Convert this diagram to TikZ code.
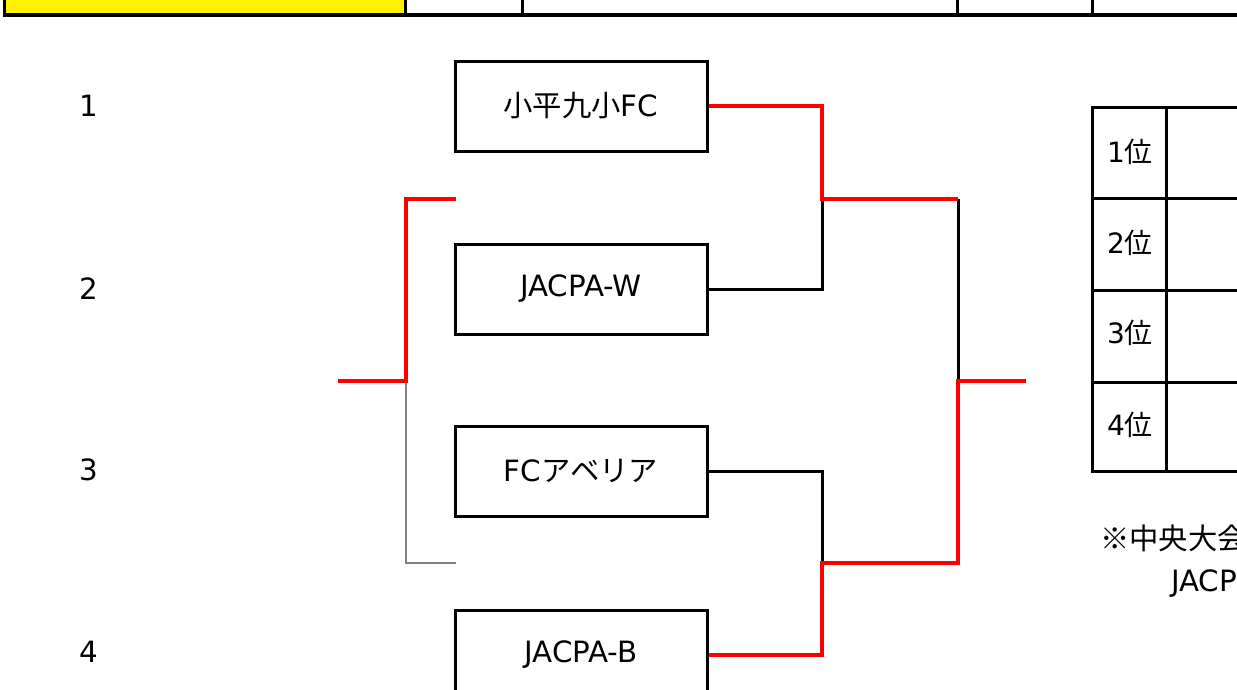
\documentclass[tikz,border=0pt]{standalone}
\usepackage{fontspec}
\setmainfont{DejaVu Sans}
\newfontfamily\jp{Noto Sans CJK JP}
\begin{document}
\begin{tikzpicture}[x=0.75pt,y=-0.75pt,
  team/.style={draw=black,line width=2.25pt,minimum width=189pt,minimum height=67.5pt,inner sep=0pt,font=\fontsize{22}{26}\selectfont},
  lbl/.style={font=\fontsize{22}{26}\selectfont,inner sep=0pt},
  rk/.style={font=\fontsize{21}{25}\selectfont,inner sep=0pt},
  blk/.style={draw=black,line width=2.25pt},
  win/.style={draw=red,line width=3pt},
  thin/.style={draw=gray,line width=0.8pt},
  grid/.style={draw=black,line width=2.25pt}]
\useasboundingbox (0,0) rectangle (1237,689);
\clip (0,0) rectangle (1237,689);
% top bar
\fill[yellow] (3,-5) rectangle (405,13);
\draw[black,line width=3.4pt] (3,15) -- (1245,15);
\foreach \xx in {4,405,522,957,1092} \draw[black,line width=2.25pt] (\xx,-5) -- (\xx,15);
% round numbers
\node[lbl] (n1) at (89,106) {1};
\node[lbl] (n2) at (89,289) {2};
\node[lbl] (n3) at (89,470) {3};
\node[lbl] (n4) at (89,652) {4};
% teams
\node[team] (t1) at (581,106) {{\jp 小平九小}FC};
\node[team] (t2) at (581,289) {JACPA-W};
\node[team] (t3) at (581,471) {FC{\jp アベリア}};
\node[team] (t4) at (581,655) {JACPA-B};
% junctions
\coordinate (s1) at (822,199);
\coordinate (s2) at (822,563);
\coordinate (f) at (958,381);
\coordinate (fe) at (1026,381);
\coordinate (l) at (406,381);
\coordinate (le) at (338,381);
\coordinate (lt) at (456,199);
\coordinate (lb) at (456,563);
% black (losing) lines
\draw[blk] (t2.east) -| (s1);
\draw[blk] (t3.east) -| (s2);
\draw[blk] (s1 -| f) -- (f);
% red (winning) lines
\draw[win] (t1.east) -| (s1) -- (s1 -| f);
\draw[win] (t4.east) -| (s2) -- (s2 -| f) -- (f) -- (fe);
% left bracket
\draw[thin] (l) |- (lb);
\draw[win] (le) -- (l) |- (lt);
% ranking table
\draw[grid] (1245,107) -- (1092,107) -- (1092,471) -- (1245,471);
\foreach \yy in {198,290,382} \draw[grid] (1092,\yy) -- (1245,\yy);
\draw[grid] (1166,107) -- (1166,471);
\node[rk] (r1) at (1130,152) {1{\jp 位}};
\node[rk] (r2) at (1130,243) {2{\jp 位}};
\node[rk] (r3) at (1130,333) {3{\jp 位}};
\node[rk] (r4) at (1130,425) {4{\jp 位}};
% note
\node[lbl,anchor=west] (note1) at (1100,538) {\jp ※中央大会};
\node[lbl,anchor=west] (note2) at (1171,584) {JACP};
\end{tikzpicture}
\end{document}
